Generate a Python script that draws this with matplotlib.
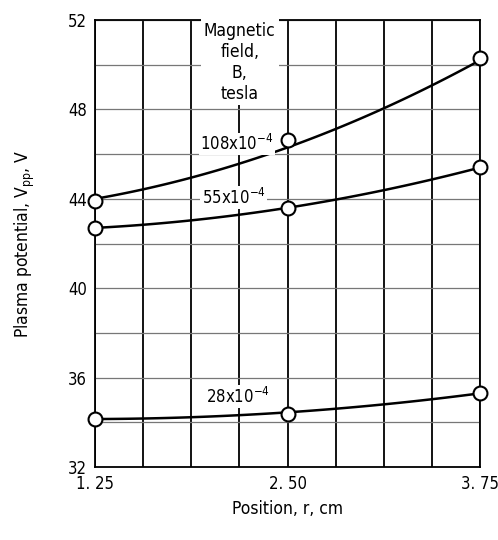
import matplotlib
matplotlib.use("Agg")
import matplotlib.pyplot as plt
import numpy as np

plt.rcParams['font.family'] = ['DejaVu Sans']
plt.rcParams['font.stretch'] = 'condensed'

# position, r, cm
position = [1.25, 2.50, 3.75]
# measured plasma potential, V
vpp_108 = [43.92, 46.62, 50.30]
vpp_55 = [42.70, 43.60, 45.44]
vpp_28 = [34.15, 34.37, 35.33]
# faired curve values at the same positions (curves do not hit every point)
fair_108 = [44.00, 46.30, 50.20]
fair_55 = [42.70, 43.60, 45.40]
fair_28 = [34.15, 34.45, 35.30]

field_labels = ['108x10$^{-4}$', '55x10$^{-4}$', '28x10$^{-4}$']
label_pos = [(2.17, 46.45), (2.15, 44.05), (2.18, 35.15)]

xticks = [1.25, 2.50, 3.75]
xticklabels = ['1. 25', '2. 50', '3. 75']
yticks = [32, 36, 40, 44, 48, 52]

fig = plt.figure(figsize=(4.98, 5.4), dpi=100)
ax = fig.add_axes([0.191, 0.135, 0.773, 0.828])

# grid: vertical lines black, horizontal lines gray
for xv in np.arange(1.25, 3.76, 0.3125):
    ax.axvline(xv, color='black', lw=1.3, zorder=1)
for yv in np.arange(32, 52.1, 2):
    ax.axhline(yv, color='#777777', lw=0.9, zorder=1)

xs = np.linspace(1.25, 3.75, 100)
for meas, fair in [(vpp_108, fair_108), (vpp_55, fair_55), (vpp_28, fair_28)]:
    coef = np.polyfit(position, fair, 2)
    ax.plot(xs, np.polyval(coef, xs), color='black', lw=1.8, zorder=3)
    ax.plot(position, meas, linestyle='none', marker='o', ms=10, mfc='white',
            mec='black', mew=1.5, zorder=4, clip_on=False)

for txt, (xl, yl) in zip(field_labels, label_pos):
    ax.text(xl, yl, txt, ha='center', va='center', fontsize=12, zorder=5,
            bbox=dict(facecolor='white', edgecolor='none', pad=1))

ax.text(2.19, 50.1, 'Magnetic\nfield,\nB,\ntesla', ha='center', va='center',
        fontsize=12.5, linespacing=1.2, zorder=5,
        bbox=dict(facecolor='white', edgecolor='none', pad=2))

ax.set_xlim(1.25, 3.75)
ax.set_ylim(32, 52)
ax.set_xticks(xticks)
ax.set_xticklabels(xticklabels, fontsize=12)
ax.set_yticks(yticks)
ax.tick_params(axis='y', labelsize=12)
ax.tick_params(length=0, pad=6)
for s in ax.spines.values():
    s.set_linewidth(1.3)
    s.set_color('black')

ax.set_xlabel('Position, r, cm', fontsize=12.5, labelpad=5)
ax.set_ylabel('Plasma potential, V$_{\\rm pp}$, V', fontsize=12.5, labelpad=22)

fig.savefig('out.png', dpi=100)
